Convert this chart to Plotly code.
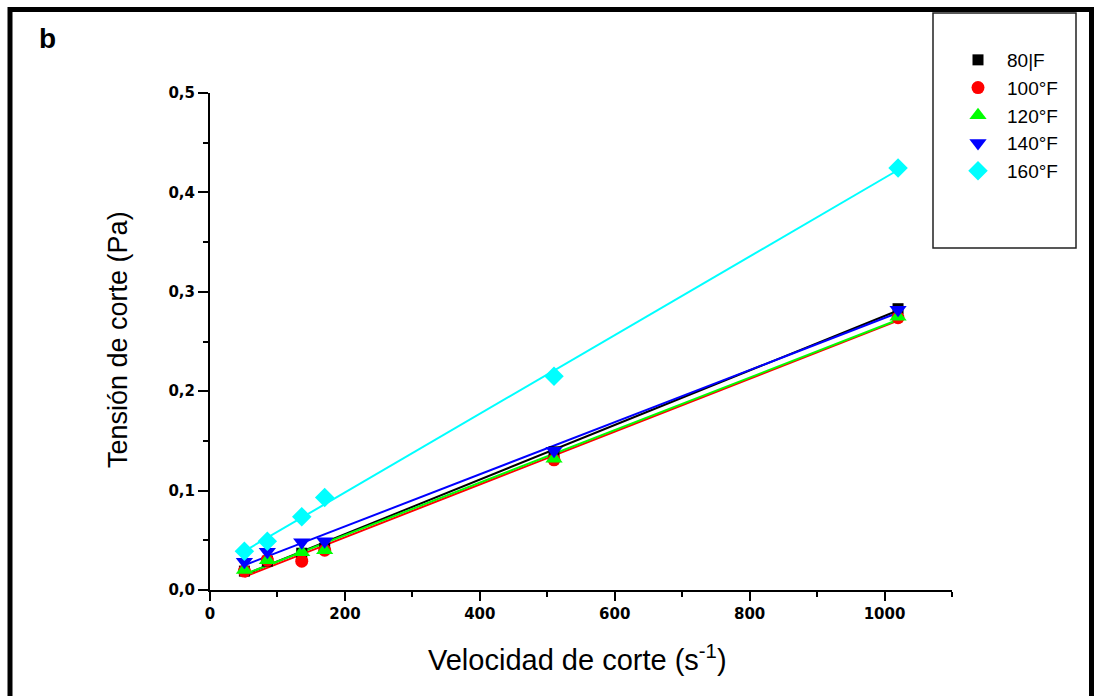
import numpy as np
import plotly.graph_objects as go

# Data
shear_rate = [51, 85, 136, 170, 510, 1020]
series_names = ["80|F", "100°F", "120°F", "140°F", "160°F"]
s80 = [0.019, 0.029, 0.037, 0.042, 0.139, 0.283]
s100 = [0.019, 0.030, 0.029, 0.040, 0.131, 0.274]
s120 = [0.020, 0.030, 0.038, 0.040, 0.132, 0.275]
s140 = [0.0285, 0.0386, 0.048, 0.049, 0.140, 0.282]
s160 = [0.039, 0.049, 0.0737, 0.093, 0.215, 0.4245]
y_ticks = [0.0, 0.1, 0.2, 0.3, 0.4, 0.5]
x_ticks = [0, 200, 400, 600, 800, 1000]

series = [s80, s100, s120, s140, s160]
colors = ["#000000", "#FF0000", "#00FF00", "#0000FF", "#00FFFF"]
symbols = ["square", "circle", "triangle-up", "triangle-down", "diamond"]
sizes = [11, 13, 15, 15, 15]

W, H = 1096, 696
L, R, T, B = 210, 144, 93, 106
PW, PH = W - L - R, H - T - B


def px(x):
    return (x - L) / PW


def py(y):
    return (H - B - y) / PH


fig = go.Figure()

xs = np.array(shear_rate, dtype=float)
for name, ys, c in zip(series_names, series, colors):
    k, b0 = np.polyfit(xs, np.array(ys), 1)
    xl = [xs.min(), xs.max()]
    fig.add_trace(go.Scatter(x=xl, y=[k * v + b0 for v in xl], mode="lines",
                             line=dict(color=c, width=2), showlegend=False,
                             hoverinfo="skip"))

for name, ys, c, s, sz in zip(series_names, series, colors, symbols, sizes):
    fig.add_trace(go.Scatter(x=shear_rate, y=ys, mode="markers", name=name,
                             marker=dict(color=c, symbol=s, size=sz,
                                         line=dict(width=0))))

# frame and legend box
frame = dict(color="black", width=5)
fig.add_shape(type="line", xref="paper", yref="paper", x0=px(10), x1=px(10),
              y0=py(7), y1=py(700), line=frame)
fig.add_shape(type="line", xref="paper", yref="paper", x0=px(8), x1=px(1094),
              y0=py(9.5), y1=py(9.5), line=frame)
fig.add_shape(type="line", xref="paper", yref="paper", x0=px(1091.5), x1=px(1091.5),
              y0=py(7), y1=py(700), line=frame)
fig.add_shape(type="rect", xref="paper", yref="paper", x0=px(933), x1=px(1076),
              y0=py(13), y1=py(248), line=dict(color="#222222", width=1.5))

ann = dict(xref="paper", yref="paper", showarrow=False, xanchor="center", yanchor="middle")
fig.add_annotation(text="<b>b</b>", x=px(47), y=py(39),
                   font=dict(family="Arial, Liberation Sans", size=28, color="black"), **ann)
fig.add_annotation(text="Tensión de corte (Pa)", x=px(118), y=py(340), textangle=-90,
                   font=dict(family="Arial, Liberation Sans", size=27, color="black"), **ann)
fig.add_annotation(text="Velocidad de corte (s<sup>-1</sup>)", x=px(577), y=py(658),
                   font=dict(family="Arial, Liberation Sans", size=29, color="black"), **ann)

tickfont = dict(family="DejaVu Sans", size=15, color="black", weight="bold")
fig.update_xaxes(range=[0, 1100], tickvals=x_ticks, ticks="outside", ticklen=9, tickwidth=2,
                 showline=True, linecolor="black", linewidth=2, showgrid=False, zeroline=False,
                 minor=dict(dtick=100, ticks="outside", ticklen=5, tickwidth=2, tickcolor="black"),
                 tickcolor="black", tickfont=tickfont)
fig.update_yaxes(range=[0, 0.5], tickvals=y_ticks, tickformat=".1f", ticks="outside", ticklen=10,
                 tickwidth=2, showline=True, linecolor="black", linewidth=2, showgrid=False,
                 zeroline=False,
                 minor=dict(dtick=0.05, ticks="outside", ticklen=5, tickwidth=2, tickcolor="black"),
                 tickcolor="black", tickfont=tickfont)

fig.update_layout(
    width=W, height=H, separators=",.",
    margin=dict(l=L, r=R, t=T, b=B, autoexpand=False),
    paper_bgcolor="white", plot_bgcolor="white",
    font=dict(family="Arial, Liberation Sans", color="black"),
    legend=dict(x=px(949), y=py(41), xanchor="left", yanchor="top",
                bgcolor="rgba(0,0,0,0)", borderwidth=0,
                font=dict(family="Arial, Liberation Sans", size=19, color="black"),
                itemwidth=48, tracegroupgap=0),
)

fig.write_html("out.html")
